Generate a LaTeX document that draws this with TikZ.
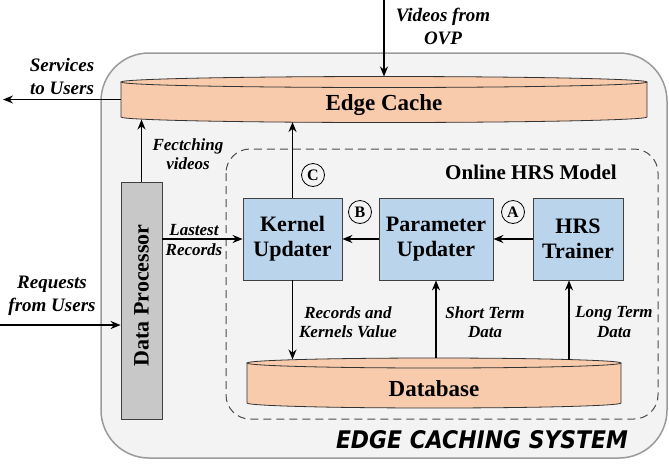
\documentclass[tikz,border=0pt]{standalone}
\usepackage{fontspec}
\setmainfont{Liberation Serif}
\newfontfamily\sysfont{DejaVu Sans}
\usetikzlibrary{arrows.meta,calc}
\definecolor{peach}{HTML}{F8CBAD}
\definecolor{boxblue}{HTML}{BAD4EC}
\definecolor{dpgray}{HTML}{C8C8C8}
\definecolor{outerfill}{HTML}{F3F3F3}
\definecolor{outergray}{HTML}{9A9A9A}
\begin{document}
\begin{tikzpicture}[x=1pt,y=-1pt,
  arr/.style={line width=1.6pt,-{Stealth[length=10pt,width=8pt]}},
  proc/.style={draw=black!75,line width=0.8pt,fill=boxblue,minimum height=82pt,inner sep=0pt,align=center,font=\fontsize{22}{25}\selectfont\bfseries},
  lbl/.style={font=\fontsize{17}{19.5}\selectfont\bfseries\itshape,align=center,inner sep=0pt},
  lblbig/.style={font=\fontsize{19}{23}\selectfont\bfseries\itshape,align=center,inner sep=0pt},
  circ/.style={circle,draw,line width=0.8pt,minimum size=23pt,inner sep=0pt,font=\fontsize{16}{16}\selectfont\bfseries},
  cyl/.style={draw=black!80,line width=0.8pt},
  bigtxt/.style={font=\fontsize{23}{26}\selectfont\bfseries}
]
\useasboundingbox (0,0) rectangle (669,464);
\fill[white] (0,0) rectangle (669,464);
% outer system box
\draw[draw=outergray,line width=1.5pt,fill=outerfill,rounded corners=48pt] (101,53) rectangle (667,458);
% online HRS model dashed box
\draw[dash pattern=on 8pt off 5pt,line width=1pt,draw=black!70,rounded corners=24pt] (226,149) rectangle (658,419);
\node[font=\fontsize{21}{24}\selectfont\bfseries] (hrsmodel) at (531,172) {Online HRS Model};

% edge cache cylinder
\fill[peach] (121,82) -- (121,117) arc[start angle=180,end angle=0,x radius=263,y radius=5.5] -- (647,82) -- cycle;
\draw[cyl] (121,82) -- (121,117) arc[start angle=180,end angle=0,x radius=263,y radius=5.5] -- (647,82);
\filldraw[cyl,fill=peach] (384,82) ellipse[x radius=263,y radius=5.5];
\node[minimum width=526pt,minimum height=35pt,inner sep=0pt] (cache) at (384,99.5) {};
\node[bigtxt] (cachelbl) at (384,105) {Edge Cache};

% database cylinder
\fill[peach] (247,363) -- (247,403) arc[start angle=180,end angle=0,x radius=187,y radius=5] -- (621,363) -- cycle;
\draw[cyl] (247,363) -- (247,403) arc[start angle=180,end angle=0,x radius=187,y radius=5] -- (621,363);
\filldraw[cyl,fill=peach] (434,363) ellipse[x radius=187,y radius=5];
\node[minimum width=374pt,minimum height=40pt,inner sep=0pt] (db) at (434,383) {};
\node[bigtxt] (dblbl) at (434,389) {Database};

% data processor
\node[draw=black!75,line width=0.8pt,fill=dpgray,minimum width=41pt,minimum height=237pt,inner sep=0pt] (dp) at (141.5,300.5) {};
\node[rotate=90,font=\fontsize{22}{25}\selectfont\bfseries] (dplbl) at ([yshift=5pt]dp.center) {Data Processor};

% processing boxes
\node[proc,minimum width=99pt] (ku) at (292.5,239) {Kernel\\Updater};
\node[proc,minimum width=114pt] (pu) at (436,239) {Parameter\\Updater};
\node[proc,minimum width=90pt] (ht) at (578,239) {HRS\\Trainer};

% circled markers
\node[circ] (cC) at (313,175) {C};
\node[circ] (cB) at (360,212) {B};
\node[circ] (cA) at (513,212) {A};

% connector end points
\coordinate (ovp) at (384,0);
\coordinate (cachetop) at (384,76.5);
\coordinate (svc) at (3,99.5);
\coordinate (cf1) at (141.5,119.5);
\coordinate (cf2) at (292.5,122);
\coordinate (dbk) at (292.5,359.5);
\coordinate (dbs) at (436,358);
\coordinate (dbl) at (569,359.5);
\coordinate (req) at (0,325);

% connectors
\draw[arr] (ovp) -- (cachetop);
\draw[arr] (cache.west) -- (svc);
\draw[arr] (dp.north) -- (cf1);
\draw[arr] (ku.north) -- (cf2);
\draw[arr] (dp.east |- ku.west) -- (ku.west);
\draw[arr] (pu.west) -- (ku.east);
\draw[arr] (ht.west) -- (pu.east);
\draw[arr] (ku.south) -- (dbk);
\draw[arr] (dbs) -- (pu.south);
\draw[arr] (dbl) -- (dbl |- ht.south);
\draw[arr] (req) -- (req -| dp.west);

% labels
\node[lblbig] (lovp) at (443,26) {Videos from\\OVP};
\node[lblbig] (lsvc) at (62,76) {Services\\to Users};
\node[lbl] (lfetch) at (188,154) {Fectching\\videos};
\node[lbl] (llast) at (194,240) {Lastest\\Records};
\node[lblbig] (lreq) at (52,296) {Requests\\from Users};
\node[lbl] (lrk) at (348,322) {Records and\\Kernels Value};
\node[lbl] (lst) at (485,322) {Short Term\\Data};
\node[lbl] (llt) at (614,322) {Long Term\\Data};
\node[inner sep=0pt] (sys) at (482,440) {\resizebox{292pt}{18pt}{\sysfont\bfseries\itshape EDGE CACHING SYSTEM}};
\end{tikzpicture}
\end{document}
